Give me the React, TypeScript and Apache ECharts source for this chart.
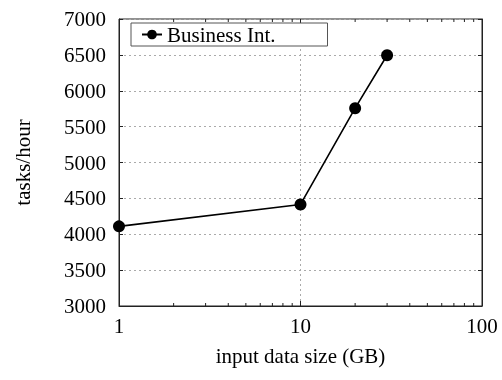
import React, { useEffect, useRef } from "react";
import * as echarts from "echarts";

const xValues = [1, 10, 20, 30];
const yValues = [4110, 4415, 5757, 6495];
const seriesName = "Business Int.";
const minorTickXs = [2, 3, 4, 5, 6, 7, 8, 9, 20, 30, 40, 50, 60, 70, 80, 90];
const majorTickXs = [10];

const FONT = "Liberation Serif";
const FS = 21;

export default function App() {
  const ref = useRef<HTMLDivElement>(null);
  useEffect(() => {
    if (!ref.current) return;
    const chart = echarts.init(ref.current, null, { renderer: "svg" });
    const tickData = [
      ...minorTickXs.map((x) => [x, 3000, 3]),
      ...majorTickXs.map((x) => [x, 3000, 5]),
    ];
    chart.setOption({
      animation: false,
      grid: {
        left: 119,
        right: 20,
        top: 19,
        bottom: 74,
        show: true,
        borderColor: "#222",
        borderWidth: 1,
        backgroundColor: "transparent",
      },
      legend: {
        left: 131,
        top: 23,
        orient: "horizontal",
        data: [seriesName],
        borderColor: "#555",
        borderWidth: 1,
        backgroundColor: "#fff",
        padding: [1, 52, 1, 10],
        itemWidth: 20,
        itemHeight: 12,
        textStyle: { fontFamily: FONT, fontSize: FS, color: "#000" },
      },
      xAxis: {
        type: "log",
        logBase: 10,
        min: 1,
        max: 100,
        name: "input data size (GB)",
        nameLocation: "middle",
        nameGap: 39,
        nameTextStyle: { fontFamily: FONT, fontSize: FS, color: "#000" },
        axisLine: { show: true, lineStyle: { color: "#222" } },
        axisTick: { show: false },
        axisLabel: { fontFamily: FONT, fontSize: FS, color: "#000", margin: 9 },
        splitLine: { show: true, lineStyle: { color: "#aaa", type: [2, 3], width: 1 } },
      },
      yAxis: [
        {
          type: "value",
          min: 3000,
          max: 7000,
          interval: 500,
          name: "tasks/hour",
          nameLocation: "middle",
          nameGap: 86,
          nameTextStyle: { fontFamily: FONT, fontSize: FS, color: "#000" },
          axisLine: { show: true, lineStyle: { color: "#222" } },
          axisTick: { show: true, inside: true, length: 4, lineStyle: { color: "#222" } },
          axisLabel: {
            fontFamily: FONT,
            fontSize: FS,
            color: "#000",
            margin: 13,
            formatter: (v: number) => String(v),
          },
          splitLine: { show: true, lineStyle: { color: "#aaa", type: [2, 3], width: 1 } },
        },
        {
          type: "value",
          min: 3000,
          max: 7000,
          interval: 500,
          position: "right",
          axisLine: { show: true, lineStyle: { color: "#222" } },
          axisTick: { show: true, inside: true, length: 4, lineStyle: { color: "#222" } },
          axisLabel: { show: false },
          splitLine: { show: false },
        },
      ],
      series: [
        {
          name: seriesName,
          type: "line",
          data: xValues.map((x, i) => [x, yValues[i]]),
          symbol: "circle",
          symbolSize: 12,
          itemStyle: { color: "#000" },
          lineStyle: { color: "#000", width: 1.6 },
          z: 5,
        },
        {
          type: "custom",
          silent: true,
          data: tickData,
          renderItem: (params: any, api: any) => {
            const x = api.value(0);
            const len = api.value(2);
            const bottom = api.coord([x, 3000]);
            const top = api.coord([x, 7000]);
            return {
              type: "group",
              children: [
                {
                  type: "line",
                  shape: { x1: bottom[0], y1: bottom[1], x2: bottom[0], y2: bottom[1] - len },
                  style: { stroke: "#222", lineWidth: 1 },
                },
                {
                  type: "line",
                  shape: { x1: top[0], y1: top[1], x2: top[0], y2: top[1] + len },
                  style: { stroke: "#222", lineWidth: 1 },
                },
              ],
            };
          },
          z: 3,
        },
      ],
    });
    return () => chart.dispose();
  }, []);
  return (
    <div
      ref={ref}
      style={{ position: "fixed", left: 0, top: 0, width: 502, height: 380 }}
    />
  );
}
